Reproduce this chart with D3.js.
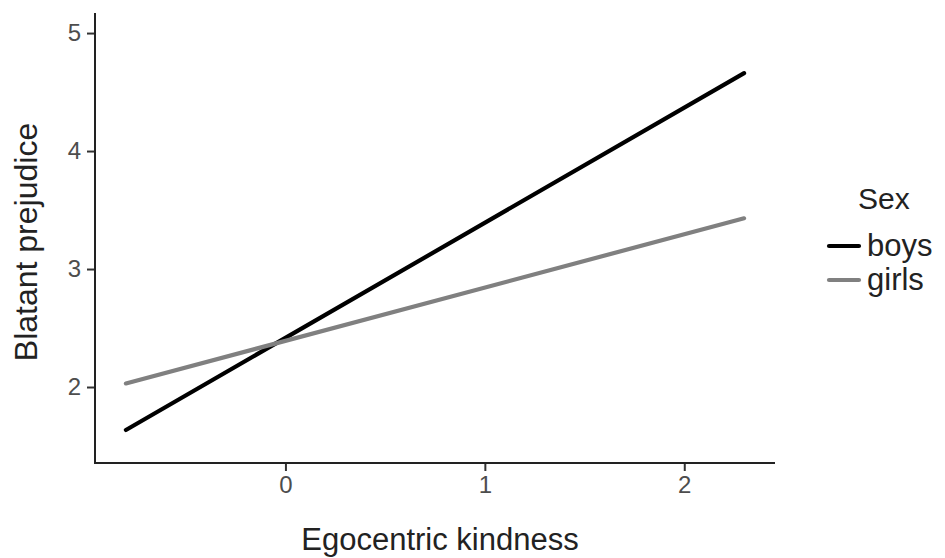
<!DOCTYPE html>
<html>
<head>
<meta charset="utf-8">
<script src="https://cdn.jsdelivr.net/npm/d3@7"></script>
<style>
  html, body { margin: 0; padding: 0; background: #fff; }
  text { font-family: "Liberation Sans", Arial, sans-serif; }
</style>
</head>
<body>
<svg id="chart" width="945" height="558"></svg>
<script>
// ---- data ----
const sexes = ["boys", "girls"];
const xEnds = [-0.8, 2.3];
const boysValues = [1.636, 4.66];
const girlsValues = [2.03, 3.43];
const xTicks = [0, 1, 2];
const yTicks = [2, 3, 4, 5];
const colors = ["#000000", "#808080"];

const series = [
  { name: sexes[0], values: boysValues, color: colors[0] },
  { name: sexes[1], values: girlsValues, color: colors[1] }
];

const svg = d3.select("#chart");
const panel = { left: 95, right: 775, top: 13, bottom: 463 };

const x = d3.scaleLinear().domain([-0.955, 2.455]).range([panel.left, panel.right]);
const y = d3.scaleLinear().domain([1.356, 5.17]).range([panel.bottom, panel.top]);

// lines
const line = d3.line().x(d => x(d[0])).y(d => y(d[1]));
svg.append("g").selectAll("path").data(series).join("path")
  .attr("d", s => line(xEnds.map((xv, i) => [xv, s.values[i]])))
  .attr("fill", "none")
  .attr("stroke", s => s.color)
  .attr("stroke-width", 4.2)
  .attr("stroke-linecap", "round");

// axes
const xAxis = svg.append("g")
  .attr("transform", `translate(0,${panel.bottom})`)
  .call(d3.axisBottom(x).tickValues(xTicks).tickFormat(d3.format("d")).tickSizeOuter(0).tickSize(8).tickPadding(5));
const yAxis = svg.append("g")
  .attr("transform", `translate(${panel.left},0)`)
  .call(d3.axisLeft(y).tickValues(yTicks).tickFormat(d3.format("d")).tickSizeOuter(0).tickSize(8).tickPadding(6));

[xAxis, yAxis].forEach(g => {
  g.select(".domain").remove();
  g.selectAll(".tick line").attr("stroke", "#333333").attr("stroke-width", 2);
  g.selectAll(".tick text").attr("fill", "#4D4D4D").style("font-size", "24px")
    .style("font-family", "'Liberation Sans', Arial, sans-serif");
});

// axis lines
svg.append("line").attr("x1", panel.left).attr("x2", panel.left)
  .attr("y1", panel.top).attr("y2", panel.bottom + 1)
  .attr("stroke", "#222").attr("stroke-width", 2);
svg.append("line").attr("x1", panel.left - 1).attr("x2", panel.right)
  .attr("y1", panel.bottom).attr("y2", panel.bottom)
  .attr("stroke", "#222").attr("stroke-width", 2);

// titles
svg.append("text")
  .attr("x", (panel.left + panel.right) / 2 + 5)
  .attr("y", 550)
  .attr("text-anchor", "middle")
  .attr("fill", "#222")
  .style("font-size", "31px")
  .text("Egocentric kindness");

svg.append("text")
  .attr("transform", `translate(37,${(panel.top + panel.bottom) / 2 + 4}) rotate(-90)`)
  .attr("text-anchor", "middle")
  .attr("fill", "#222")
  .style("font-size", "32px")
  .text("Blatant prejudice");

// legend
const legend = svg.append("g");
legend.append("text").attr("x", 858).attr("y", 209)
  .attr("fill", "#222").style("font-size", "30px").text("Sex");
const items = legend.selectAll("g.item").data(series).join("g")
  .attr("class", "item")
  .attr("transform", (d, i) => `translate(0,${246 + i * 34})`);
items.append("line").attr("x1", 829).attr("x2", 859).attr("y1", 0).attr("y2", 0)
  .attr("stroke", d => d.color).attr("stroke-width", 4.2).attr("stroke-linecap", "round");
items.append("text").attr("x", 867).attr("y", 10)
  .attr("fill", "#222").style("font-size", "31px").text(d => d.name);
</script>
</body>
</html>
